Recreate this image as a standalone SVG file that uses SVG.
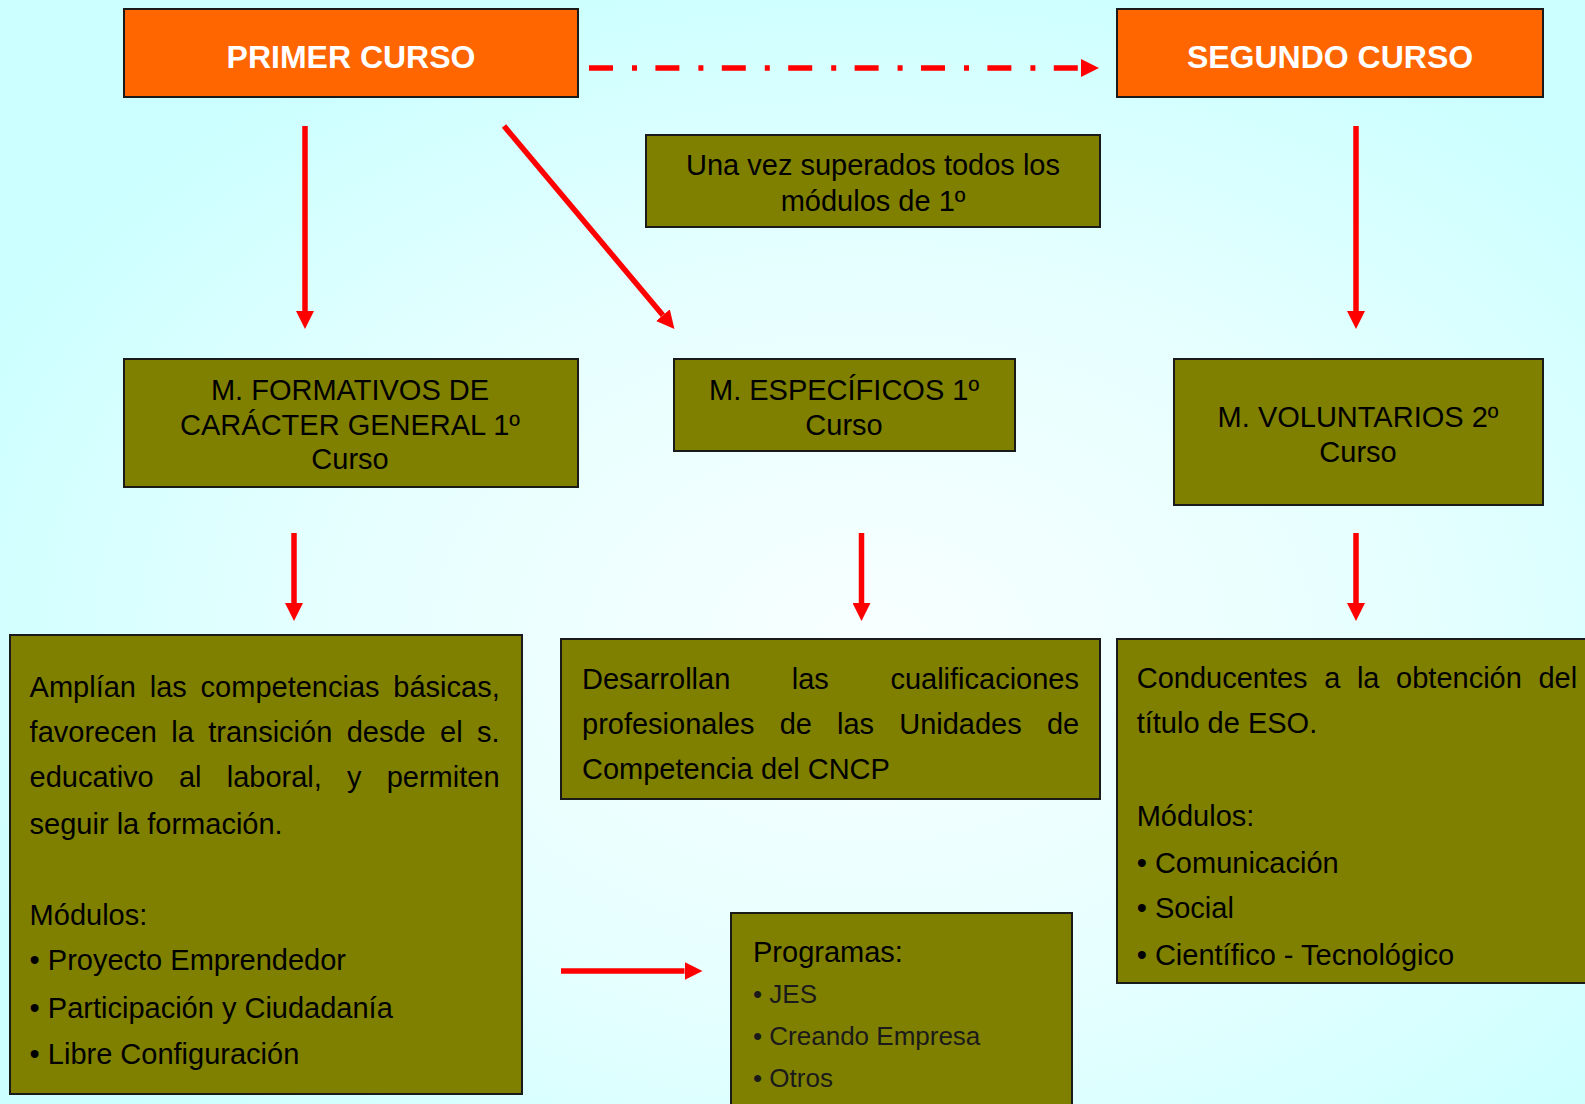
<svg xmlns="http://www.w3.org/2000/svg" width="1585" height="1104" viewBox="0 0 1585 1104">
<defs>
<radialGradient id="bg" cx="55%" cy="58%" r="62%">
<stop offset="0" stop-color="#F8FFFF"/>
<stop offset="0.55" stop-color="#E6FFFF"/>
<stop offset="1" stop-color="#CCFFFF"/>
</radialGradient>
<marker id="ah" markerUnits="userSpaceOnUse" markerWidth="18" markerHeight="18" refX="0" refY="9" orient="auto">
<path d="M0,0 L18,9 L0,18 Z" fill="#FF0000"/>
</marker>
<style>
.orange{fill:#FF6600;stroke:#1a1a1a;stroke-width:2}
.olive{fill:#808000;stroke:#1a1a1a;stroke-width:2}
.title{font-family:"Liberation Sans",Arial,sans-serif;font-weight:bold;font-size:32px;fill:#FFFFFF;text-anchor:middle}
.lbl{font-family:"Liberation Sans",Arial,sans-serif;font-size:29px;fill:#000000;text-anchor:middle}
.body{font-family:"Liberation Sans",Arial,sans-serif;font-size:29px;fill:#000000}
.small{font-family:"Liberation Sans",Arial,sans-serif;font-size:26px;fill:#1a1a1a}
.conn{stroke:#FF0000;stroke-width:5.5;fill:none;marker-end:url(#ah)}
.dash{stroke-dasharray:24 19 5 18.4}
</style>
</defs>
<rect x="0" y="0" width="1585" height="1104" fill="url(#bg)"/>

<g id="connectors">
<line class="conn dash" x1="589" y1="68" x2="1081" y2="68"/>
<line class="conn" x1="305" y1="126" x2="305" y2="311"/>
<line class="conn" x1="504" y1="126" x2="662.9" y2="315.2"/>
<line class="conn" x1="1356" y1="126" x2="1356" y2="311"/>
<line class="conn" x1="294" y1="533" x2="294" y2="603"/>
<line class="conn" x1="861.5" y1="533" x2="861.5" y2="603"/>
<line class="conn" x1="1356" y1="533" x2="1356" y2="603"/>
<line class="conn" x1="561" y1="971" x2="684.5" y2="971"/>
</g>

<g id="primer-curso">
<rect class="orange" x="124" y="9" width="454" height="88"/>
<text class="title" x="351" y="67.5">PRIMER CURSO</text>
</g>

<g id="segundo-curso">
<rect class="orange" x="1117" y="9" width="426" height="88"/>
<text class="title" x="1330" y="67.5">SEGUNDO CURSO</text>
</g>

<g id="una-vez">
<rect class="olive" x="646" y="135" width="454" height="92"/>
<text class="lbl" x="873" y="175">Una vez superados todos los</text>
<text class="lbl" x="873" y="210.5">módulos de 1º</text>
</g>

<g id="m-formativos">
<rect class="olive" x="124" y="359" width="454" height="128"/>
<text class="lbl" x="350" y="400">M. FORMATIVOS DE</text>
<text class="lbl" x="350" y="434.5">CARÁCTER GENERAL 1º</text>
<text class="lbl" x="350" y="469">Curso</text>
</g>

<g id="m-especificos">
<rect class="olive" x="674" y="359" width="341" height="92"/>
<text class="lbl" x="844" y="400">M. ESPECÍFICOS 1º</text>
<text class="lbl" x="844" y="434.5">Curso</text>
</g>

<g id="m-voluntarios">
<rect class="olive" x="1174" y="359" width="369" height="146"/>
<text class="lbl" x="1358" y="427">M. VOLUNTARIOS 2º</text>
<text class="lbl" x="1358" y="461.5">Curso</text>
</g>

<g id="amplian">
<rect class="olive" x="10" y="635" width="512" height="459"/>
<text class="body">
<tspan x="29.6" y="697">Amplían</tspan><tspan x="149.8" y="697">las</tspan><tspan x="200.6" y="697">competencias</tspan><tspan x="393.3" y="697">básicas,</tspan>
<tspan x="29.6" y="742">favorecen</tspan><tspan x="171.3" y="742">la</tspan><tspan x="208.2" y="742">transición</tspan><tspan x="346.7" y="742">desde</tspan><tspan x="440" y="742">el</tspan><tspan x="476.9" y="742">s.</tspan>
<tspan x="29.6" y="787">educativo</tspan><tspan x="178.9" y="787">al</tspan><tspan x="226.7" y="787">laboral,</tspan><tspan x="347" y="787">y</tspan><tspan x="386.7" y="787">permiten</tspan>
<tspan x="29.6" y="834">seguir la formación.</tspan>
<tspan x="29.6" y="925">Módulos:</tspan>
<tspan x="29.6" y="970">• Proyecto Emprendedor</tspan>
<tspan x="29.6" y="1018">• Participación y Ciudadanía</tspan>
<tspan x="29.6" y="1064">• Libre Configuración</tspan>
</text>
</g>

<g id="desarrollan">
<rect class="olive" x="561" y="639" width="539" height="160"/>
<text class="body">
<tspan x="582" y="689">Desarrollan</tspan><tspan x="791.8" y="689">las</tspan><tspan x="890.4" y="689">cualificaciones</tspan>
<tspan x="582" y="734">profesionales</tspan><tspan x="779.7" y="734">de</tspan><tspan x="837" y="734">las</tspan><tspan x="899.2" y="734">Unidades</tspan><tspan x="1046.9" y="734">de</tspan>
<tspan x="582" y="779">Competencia del CNCP</tspan>
</text>
</g>

<g id="conducentes">
<rect class="olive" x="1117" y="639" width="475" height="344"/>
<text class="body">
<tspan x="1136.7" y="688">Conducentes</tspan><tspan x="1324.2" y="688">a</tspan><tspan x="1356.9" y="688">la</tspan><tspan x="1396.1" y="688">obtención</tspan><tspan x="1538.4" y="688">del</tspan>
<tspan x="1136.7" y="733">título de ESO.</tspan>
<tspan x="1136.7" y="826">Módulos:</tspan>
<tspan x="1136.7" y="873">• Comunicación</tspan>
<tspan x="1136.7" y="918">• Social</tspan>
<tspan x="1136.7" y="965">• Científico - Tecnológico</tspan>
</text>
</g>

<g id="programas">
<rect class="olive" x="731" y="913" width="341" height="200"/>
<text class="body" x="753" y="962">Programas:</text>
<text class="small">
<tspan x="753" y="1003">• JES</tspan>
<tspan x="753" y="1045">• Creando Empresa</tspan>
<tspan x="753" y="1087">• Otros</tspan>
</text>
</g>
</svg>
